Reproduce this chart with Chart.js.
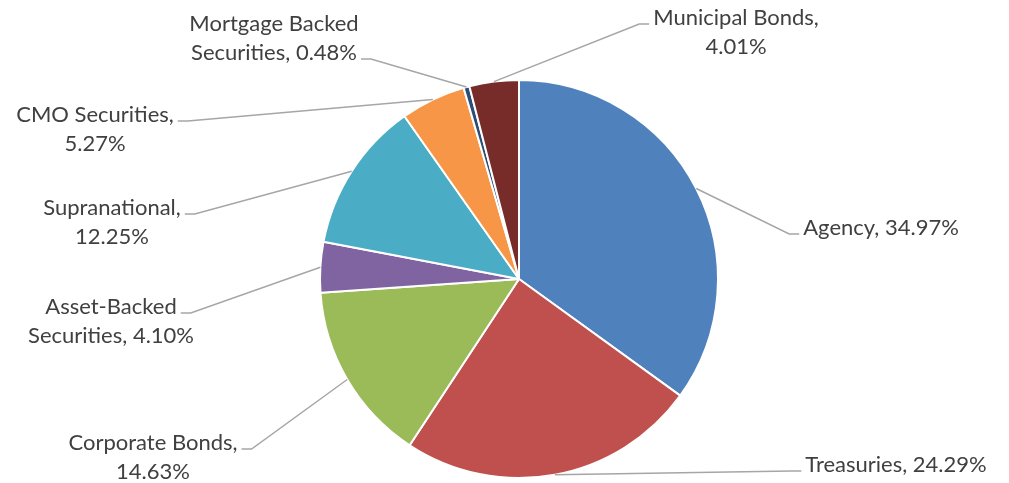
<!DOCTYPE html>
<html>
<head>
<meta charset="utf-8">
<script src="https://cdn.jsdelivr.net/npm/chart.js@4/dist/chart.umd.min.js"></script>
<style>
  html, body { margin: 0; padding: 0; background: #fff; }
  canvas { display: block; }
</style>
</head>
<body>
<canvas id="pie" width="1009" height="483"></canvas>
<script>
// --- DATOS ---
const categories = ['Agency', 'Treasuries', 'Corporate Bonds', 'Asset-Backed Securities', 'Supranational', 'CMO Securities', 'Mortgage Backed Securities', 'Municipal Bonds'];
const shares = [34.97, 24.29, 14.63, 4.10, 12.25, 5.27, 0.48, 4.01];
const sliceColors = ['#4F81BD', '#C0504D', '#9BBB59', '#8064A2', '#4BACC6', '#F79646', '#2C4D75', '#772C2A'];
// texto de cada etiqueta, una línea por elemento
const labelLines = [
    ['Agency, 34.97%'],
    ['Treasuries, 24.29%'],
    ['Corporate Bonds,', '14.63%'],
    ['Asset-Backed', 'Securities, 4.10%'],
    ['Supranational,', '12.25%'],
    ['CMO Securities,', '5.27%'],
    ['Mortgage Backed', 'Securities, 0.48%'],
    ['Municipal Bonds,', '4.01%']
];
// ubicación de las etiquetas (centro del bloque, primera línea) y lado del conector
const labelLayout = [
    { x: 881, y: 228, side: 'left', line: 0 },
    { x: 896, y: 465, side: 'left', line: 0 },
    { x: 153, y: 443, side: 'right', line: 0 },
    { x: 111, y: 307, side: 'right', line: 0 },
    { x: 112, y: 208, side: 'right', line: 0 },
    { x: 95, y: 115, side: 'right', line: 0 },
    { x: 274, y: 24, side: 'right', line: 1 },
    { x: 736, y: 18, side: 'left', line: 0 }
];

const FONT = '22px Lato';
const LINE_H = 29;

// --- PLUGIN DE ETIQUETAS CON CONECTORES ---
const leaderLabels = {
    id: 'leaderLabels',
    afterDatasetsDraw(chart) {
        const ctx = chart.ctx;
        const arcs = chart.getDatasetMeta(0).data;
        ctx.save();
        ctx.font = FONT;
        ctx.textAlign = 'center';
        ctx.textBaseline = 'middle';
        arcs.forEach((arc, i) => {
            const p = arc.getProps(['x', 'y', 'startAngle', 'endAngle', 'outerRadius'], true);
            const mid = (p.startAngle + p.endAngle) / 2;
            const ax = p.x + Math.cos(mid) * p.outerRadius;
            const ay = p.y + Math.sin(mid) * p.outerRadius;
            const lay = labelLayout[i];
            const lines = labelLines[i];
            const w = ctx.measureText(lines[lay.line]).width;
            const ly = lay.y + lay.line * LINE_H + 6;
            const dir = lay.side === 'left' ? -1 : 1;
            const ex = lay.x + dir * (w / 2 + 4);
            const bx = ex + dir * 10;

            ctx.strokeStyle = '#A6A6A6';
            ctx.lineWidth = 1.5;
            ctx.beginPath();
            ctx.moveTo(ax, ay);
            ctx.lineTo(bx, ly);
            ctx.lineTo(ex, ly);
            ctx.stroke();

            ctx.fillStyle = '#404040';
            lines.forEach((t, k) => ctx.fillText(t, lay.x, lay.y + k * LINE_H));
        });
        ctx.restore();
    }
};

new Chart(document.getElementById('pie'), {
    type: 'pie',
    data: {
        labels: categories,
        datasets: [{
            data: shares,
            backgroundColor: sliceColors,
            borderColor: '#ffffff',
            borderWidth: 2
        }]
    },
    options: {
        responsive: false,
        animation: false,
        layout: { padding: { top: 79, bottom: 4, left: 29, right: 0 } },
        plugins: {
            legend: { display: false },
            tooltip: { enabled: false }
        }
    },
    plugins: [leaderLabels]
});
</script>
</body>
</html>
